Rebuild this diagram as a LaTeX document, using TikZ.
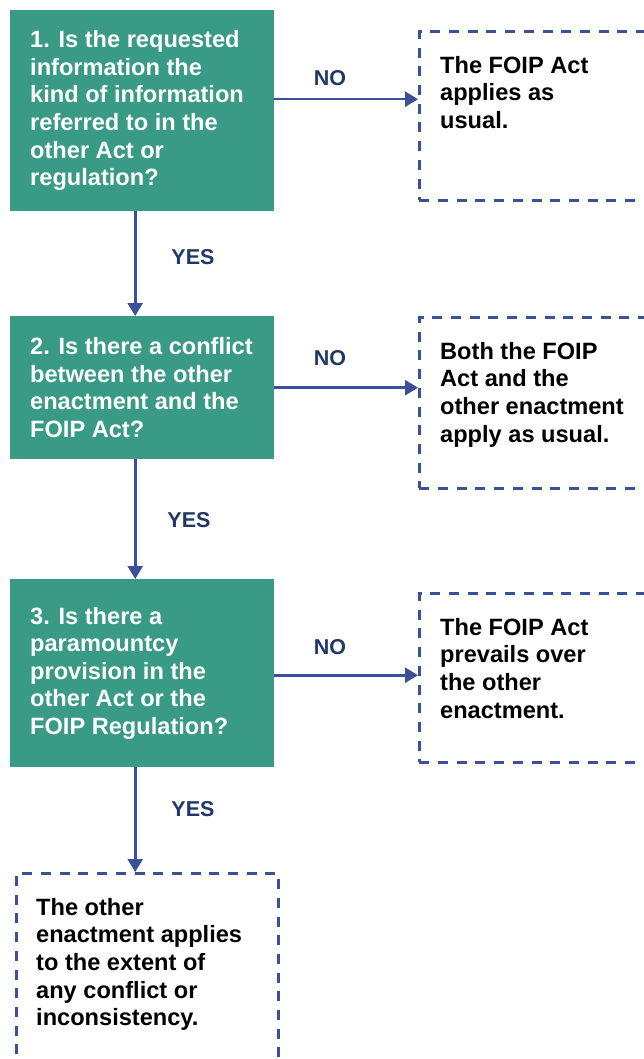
\documentclass[tikz,border=0pt]{standalone}
\usepackage{fontspec}
\setmainfont{Liberation Sans}
\usetikzlibrary{arrows.meta}
\definecolor{qgreen}{RGB}{57,155,134}
\definecolor{lineblue}{RGB}{58,81,153}
\definecolor{labnavy}{RGB}{31,56,100}
\begin{document}
\begin{tikzpicture}[x=1pt,y=-1pt,
  qbox/.style={fill=qgreen, draw=none, minimum width=264pt, inner sep=0pt, anchor=north west},
  qtext/.style={text=white, font=\bfseries\fontsize{23.6}{27.6}\selectfont, align=left, inner sep=0pt, anchor=west},
  abox/.style={draw=lineblue, line width=2.6pt, dash pattern=on 10pt off 8.7pt, inner sep=0pt, anchor=north west},
  atext/.style={text=black, font=\bfseries\fontsize{23.6}{27.6}\selectfont, align=left, inner sep=0pt, anchor=north west},
  conn/.style={draw=lineblue, line width=2.6pt, -{Triangle[length=13pt,width=15pt]}},
  lab/.style={text=labnavy, font=\bfseries\fontsize{21.5}{24}\selectfont, inner sep=0pt}]
\useasboundingbox (0,0) rectangle (644,1059);
\clip (0,0) rectangle (644,1059);

% question boxes
\node[qbox, minimum height=201pt] (q1) at (10,10) {};
\node[qbox, minimum height=143pt] (q2) at (10,316) {};
\node[qbox, minimum height=188pt] (q3) at (10,579) {};

\node[qtext] (t1) at ([xshift=20pt]q1.west) {1. Is the requested\\information the\\kind of information\\referred to in the\\other Act or\\regulation?};
\node[qtext] (t2) at ([xshift=20pt]q2.west) {2. Is there a conflict\\between the other\\enactment and the\\FOIP Act?};
\node[qtext] (t3) at ([xshift=20pt]q3.west) {3. Is there a\\paramountcy\\provision in the\\other Act or the\\FOIP Regulation?};

% answer boxes
\node[abox, minimum width=300pt, minimum height=169pt] (a1) at (418,30) {};
\node[abox, minimum width=300pt, minimum height=171pt] (a2) at (418,316) {};
\node[abox, minimum width=300pt, minimum height=169pt] (a3) at (418,592) {};
\node[abox, minimum width=262pt, minimum height=240pt] (a4) at (15,872) {};

\node[atext] (b1) at ([xshift=22pt,yshift=-26pt]a1.north west) {The FOIP Act\\applies as\\usual.};
\node[atext] (b2) at ([xshift=22pt,yshift=-26pt]a2.north west) {Both the FOIP\\Act and the\\other enactment\\apply as usual.};
\node[atext] (b3) at ([xshift=22pt,yshift=-26pt]a3.north west) {The FOIP Act\\prevails over\\the other\\enactment.};
\node[atext] (b4) at ([xshift=21pt,yshift=-26pt]a4.north west) {The other\\enactment applies\\to the extent of\\any conflict or\\inconsistency.};

% connectors
\draw[conn] ([xshift=-7pt]q1.south) coordinate (d1) -- (d1 |- q2.north);
\draw[conn] ([xshift=-7pt]q2.south) coordinate (d2) -- (d2 |- q3.north);
\draw[conn] ([xshift=-7pt]q3.south) coordinate (d3) -- (d3 |- a4.north);
\draw[conn] ([yshift=11.5pt]q1.east) coordinate (s1) -- (s1 -| a1.west);
\draw[conn] (q2.east) -- (q2.east -| a2.west);
\draw[conn] ([yshift=-2pt]q3.east) coordinate (s3) -- (s3 -| a3.west);

% labels
\node[lab] (n1) at (330,78) {NO};
\node[lab] (n2) at (330,358.5) {NO};
\node[lab] (n3) at (330,647) {NO};
\node[lab] (y1) at (193,257) {YES};
\node[lab] (y2) at (189,520.5) {YES};
\node[lab] (y3) at (193,809) {YES};
\end{tikzpicture}
\end{document}
